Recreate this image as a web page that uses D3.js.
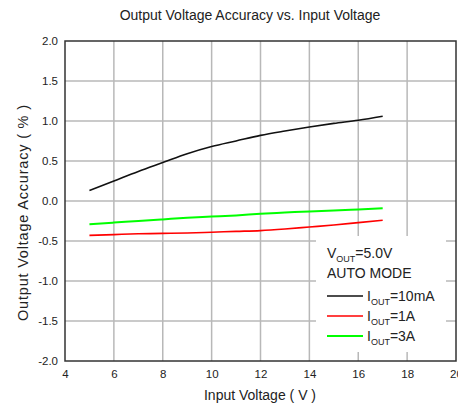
<!DOCTYPE html>
<html><head><meta charset="utf-8">
<script src="https://cdn.jsdelivr.net/npm/d3@7"></script>
<style>body{margin:0;background:#fff}svg{display:block}text{font-family:"Liberation Sans",Arial,sans-serif;fill:#222}</style>
</head><body><svg id="c" width="458" height="407"></svg>
<script>
const vin = [5,6,7,8,9,10,11,12,13,14,15,16,17];
const acc10mA = [0.13,0.25,0.37,0.48,0.59,0.68,0.75,0.82,0.875,0.925,0.97,1.01,1.06];
const acc1A = [-0.43,-0.42,-0.41,-0.405,-0.40,-0.39,-0.38,-0.37,-0.35,-0.325,-0.30,-0.27,-0.24];
const acc3A = [-0.29,-0.27,-0.25,-0.23,-0.21,-0.195,-0.18,-0.16,-0.145,-0.13,-0.12,-0.105,-0.09];
const xTicks = [4,6,8,10,12,14,16,18,20];
const yTicks = [-2.0,-1.5,-1.0,-0.5,0.0,0.5,1.0,1.5,2.0];
const seriesNames = ["10mA","1A","3A"];
const seriesColors = ["#111111","#ff0000","#00ff00"];
const seriesData = [acc10mA, acc1A, acc3A];

const svg = d3.select("#c");
const L=65,R=456,T=41,B=361;
const x = d3.scaleLinear().domain([4,20]).range([L,R]);
const y = d3.scaleLinear().domain([-2,2]).range([B,T]);

// grid
svg.append("g").selectAll("line").data(xTicks.slice(1,-1)).join("line")
  .attr("x1",d=>x(d)).attr("x2",d=>x(d)).attr("y1",T).attr("y2",B)
  .attr("stroke","#b8b8b8").attr("stroke-width",1.5);
svg.append("g").selectAll("line").data(yTicks.slice(1,-1)).join("line")
  .attr("x1",L).attr("x2",R).attr("y1",d=>y(d)).attr("y2",d=>y(d))
  .attr("stroke","#b8b8b8").attr("stroke-width",1.5);

// axes tick labels
const xa = svg.append("g").attr("transform",`translate(0,${B})`)
  .call(d3.axisBottom(x).tickValues(xTicks).tickSize(0).tickPadding(9).tickFormat(d=>String(d)));
xa.select(".domain").remove();
xa.selectAll("text").style("font-size","11.5px").attr("fill","#222");
const ya = svg.append("g").attr("transform",`translate(${L},0)`)
  .call(d3.axisLeft(y).tickValues(yTicks).tickSize(0).tickPadding(7).tickFormat(d=>d.toFixed(1)));
ya.select(".domain").remove();
ya.selectAll("text").style("font-size","11.5px").attr("fill","#222");

// lines
const line = d3.line().x((d,i)=>x(vin[i])).y(d=>y(d)).curve(d3.curveMonotoneX);
seriesData.forEach((s,k)=>{
  svg.append("path").datum(s).attr("d",line).attr("fill","none")
    .attr("stroke",seriesColors[k]).attr("stroke-width",k==2?2:1.6);
});

// legend box
svg.append("rect").attr("x",316).attr("y",236).attr("width",130).attr("height",116).attr("fill","#fff");
const lg = svg.append("g").attr("transform","translate(327,0)");
function sub(t, main, subt, rest){
  t.append("tspan").text(main);
  t.append("tspan").attr("dy",4).style("font-size","9px").text(subt);
  t.append("tspan").attr("dy",-4).text(rest);
}
let t1 = lg.append("text").attr("x",0).attr("y",258).style("font-size","14px");
sub(t1,"V","OUT","=5.0V");
lg.append("text").attr("x",0).attr("y",278).style("font-size","14px").text("AUTO MODE");
seriesNames.forEach((n,k)=>{
  const yy = 296 + k*20;
  lg.append("line").attr("x1",0).attr("x2",36).attr("y1",yy).attr("y2",yy)
    .attr("stroke",seriesColors[k]).attr("stroke-width",k==2?2:1.6);
  const t = lg.append("text").attr("x",40).attr("y",yy+5).style("font-size","14px");
  sub(t,"I","OUT","="+n);
});

// border
svg.append("rect").attr("x",L).attr("y",T).attr("width",R-L).attr("height",B-T)
  .attr("fill","none").attr("stroke","#333").attr("stroke-width",1.5);

// titles
svg.append("text").attr("x",250).attr("y",20).attr("text-anchor","middle").style("font-size","14px")
  .text("Output Voltage Accuracy vs. Input Voltage");
svg.append("text").attr("x",260).attr("y",400).attr("text-anchor","middle").style("font-size","14px")
  .text("Input Voltage ( V )");
svg.append("text").attr("transform","translate(28,213) rotate(-90)").attr("text-anchor","middle").style("font-size","14.5px")
  .attr("textLength",216).attr("lengthAdjust","spacing")
  .text("Output Voltage Accuracy ( % )");
</script></body></html>
